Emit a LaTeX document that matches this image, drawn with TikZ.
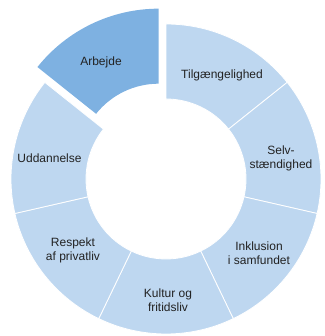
\documentclass[tikz,border=0pt]{standalone}
\usepackage{fontspec}
\setmainfont{Liberation Sans}
\definecolor{seglight}{RGB}{190,215,240}
\definecolor{segdark}{RGB}{126,177,225}
\definecolor{txt}{RGB}{34,34,34}
\tikzset{
  seg/.style={fill=seglight, draw=white, line width=0.8pt},
  segsel/.style={fill=segdark, draw=none},
  lbl/.style={text=txt, align=center, font=\fontsize{12}{14}\selectfont, inner sep=0pt}
}
\newcommand{\ringseg}[3]{%
  \path[#1] (#2:155) arc[start angle=#2, end angle=#3, radius=155]
    -- (#3:80) arc[start angle=#3, end angle=#2, radius=80] -- cycle;}
\begin{document}
\begin{tikzpicture}[x=1pt,y=1pt]
\useasboundingbox (0,0) rectangle (324,336);
\begin{scope}[shift={(166,157)}]
  \ringseg{seg}{90}{38.571}
  \ringseg{seg}{38.571}{-12.857}
  \ringseg{seg}{-12.857}{-64.286}
  \ringseg{seg}{-64.286}{-115.714}
  \ringseg{seg}{-115.714}{-167.143}
  \ringseg{seg}{192.857}{141.429}
  \begin{scope}[shift={(115.714:17)}]
    \ringseg{segsel}{141.429}{90}
  \end{scope}
\end{scope}
\node[lbl] (arbejde) at (101,274) {Arbejde};
\node[lbl] (tilg) at (222,261) {Tilgængelighed};
\node[lbl] (selv) at (281,178) {Selv-\\stændighed};
\node[lbl] (udd) at (49.5,178) {Uddannelse};
\node[lbl] (resp) at (73,86) {Respekt\\af privatliv};
\node[lbl] (inkl) at (259,83) {Inklusion\\i samfundet};
\node[lbl] (kultur) at (168,36) {Kultur og\\fritidsliv};
\end{tikzpicture}
\end{document}
